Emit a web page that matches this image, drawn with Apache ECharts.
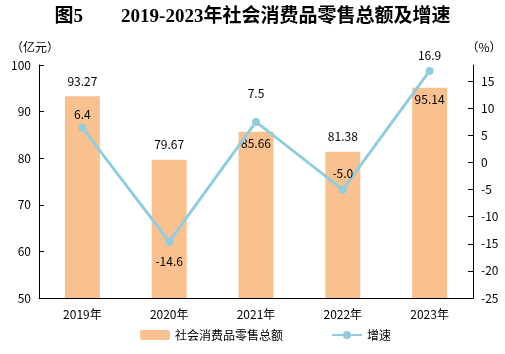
<!DOCTYPE html>
<html>
<head>
<meta charset="utf-8">
<script src="https://cdn.jsdelivr.net/npm/echarts@6/dist/echarts.min.js"></script>
<style>
  html, body { margin: 0; padding: 0; background: #fff; }
  #main { width: 505px; height: 354px; }
</style>
</head>
<body>
<div id="main"></div>
<script>
  // 数据
  const years = ['2019年', '2020年', '2021年', '2022年', '2023年'];
  const retailTotal = [93.27, 79.67, 85.66, 81.38, 95.14];   // 社会消费品零售总额（亿元）
  const growthRate = [6.4, -14.6, 7.5, -5.0, 16.9];          // 增速（%）
  const barLabelPos = ['top', 'top', 'insideTop', 'top', 'insideTop'];
  const lineLabelPos = ['top', 'bottom', 'top', 'top', 'top'];
  const lineLabelDist = [3, 10, 18, 6, 6];

  const cjk = '"Noto Sans CJK SC", sans-serif';
  let myChart = echarts.init(document.getElementById('main'));
  let option;

  option = {
    animation: false,
    title: {
      text: '图5　　2019-2023年社会消费品零售总额及增速',
      left: 'center',
      top: 3,
      textStyle: {
        fontFamily: '"Liberation Serif", "Noto Sans CJK SC", serif',
        fontWeight: 'bold',
        fontSize: 19,
        color: '#000'
      }
    },
    legend: {
      bottom: 8,
      left: 135,
      itemGap: 48,
      itemWidth: 30,
      itemHeight: 10,
      textStyle: { fontFamily: cjk, fontSize: 12, color: '#000' },
      data: ['社会消费品零售总额', '增速']
    },
    grid: {
      left: 39,
      right: 32,
      top: 65,
      bottom: 56
    },
    xAxis: {
      type: 'category',
      data: years,
      axisLine: { onZero: false, lineStyle: { color: '#000' } },
      axisTick: { inside: true, length: 5, lineStyle: { color: '#000' } },
      axisLabel: { color: '#000', fontFamily: cjk, fontSize: 12, margin: 10 }
    },
    yAxis: [
      {
        type: 'value',
        name: '（亿元）',
        nameLocation: 'end',
        nameGap: 12,
        nameTextStyle: { fontFamily: cjk, fontSize: 12, color: '#000', align: 'center', padding: [0, 0, 0, -8] },
        min: 50,
        max: 100,
        interval: 10,
        axisLine: { show: true, lineStyle: { color: '#000' } },
        axisTick: { show: true, inside: true, length: 5, lineStyle: { color: '#000' } },
        axisLabel: { color: '#000', fontFamily: cjk, fontSize: 12, margin: 8 },
        splitLine: { show: false }
      },
      {
        type: 'value',
        name: '（%）',
        nameLocation: 'end',
        nameGap: 12,
        nameTextStyle: { fontFamily: cjk, fontSize: 12, color: '#000', align: 'center', padding: [0, 0, 0, 22] },
        min: -25,
        max: 18,
        interval: 5,
        axisLine: { show: true, lineStyle: { color: '#000' } },
        axisTick: { show: true, inside: true, length: 5, lineStyle: { color: '#000' } },
        axisLabel: { color: '#000', fontFamily: cjk, fontSize: 12, margin: 8, showMaxLabel: false },
        splitLine: { show: false }
      }
    ],
    series: [
      {
        name: '社会消费品零售总额',
        type: 'bar',
        yAxisIndex: 0,
        barWidth: 35,
        itemStyle: { color: '#F9C190' },
        data: retailTotal.map((v, i) => ({
          value: v,
          label: { position: barLabelPos[i], distance: barLabelPos[i] === 'top' ? 9 : 6 }
        })),
        label: {
          show: true,
          color: '#000',
          fontFamily: cjk,
          fontSize: 12,
          formatter: p => p.value.toFixed(2)
        }
      },
      {
        name: '增速',
        type: 'line',
        yAxisIndex: 1,
        symbol: 'circle',
        symbolSize: 8,
        lineStyle: { color: '#93CDDD', width: 3 },
        itemStyle: { color: '#93CDDD' },
        data: growthRate.map((v, i) => ({
          value: v,
          label: { position: lineLabelPos[i], distance: lineLabelDist[i] }
        })),
        label: {
          show: true,
          color: '#000',
          fontFamily: cjk,
          fontSize: 12,
          formatter: p => p.value.toFixed(1)
        },
        z: 3
      }
    ]
  };

  option && myChart.setOption(option);
</script>
</body>
</html>
